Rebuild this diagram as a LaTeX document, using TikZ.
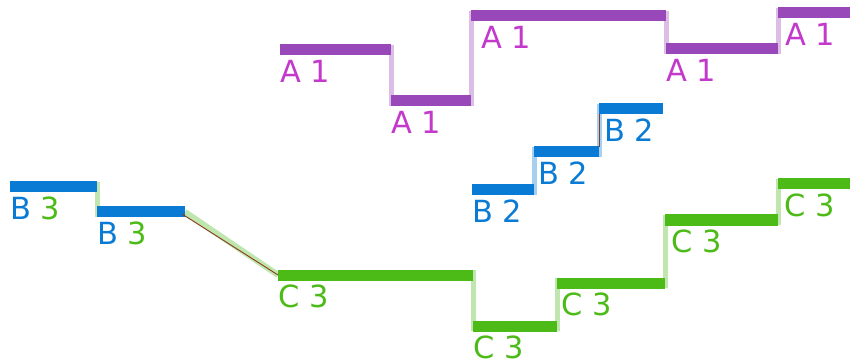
\documentclass[tikz,border=0pt]{standalone}
\usepackage{fontspec}
\setmainfont{DejaVu Sans}
\usetikzlibrary{positioning}

\definecolor{aline}{HTML}{9848B8}
\definecolor{alight}{HTML}{DCBDE5}
\definecolor{atext}{HTML}{C239CB}
\definecolor{bline}{HTML}{0A7BD5}
\definecolor{blight}{HTML}{A7CFF2}
\definecolor{cline}{HTML}{4DBB17}
\definecolor{clight}{HTML}{BFE6AE}
\definecolor{trace}{HTML}{8B3A1A}

\begin{document}
\begin{tikzpicture}[x=1pt, y=-1pt,
    seg/.style={line width=11pt},
    aseg/.style={seg, draw=aline},
    bseg/.style={seg, draw=bline},
    cseg/.style={seg, draw=cline},
    link/.style={line width=5pt, shorten <=-5pt, shorten >=-5pt},
    alink/.style={link, draw=alight},
    blink/.style={link, draw=blight},
    clink/.style={link, draw=clight},
    tracebox/.style={line width=0.9pt, draw=trace},
    lbl/.style={anchor=north west, inner sep=0pt, font=\fontsize{30.5}{36}\selectfont, yshift=-10pt}
]
    \useasboundingbox (0,0) rectangle (850,363);

    % --- Segment ends ---
    % A
    \coordinate (a1s) at (280,50);  \coordinate (a1e) at (391,50);
    \coordinate (a2s) at (391,101); \coordinate (a2e) at (471,101);
    \coordinate (a3s) at (471,16);  \coordinate (a3e) at (666,16);
    \coordinate (a4s) at (666,49);  \coordinate (a4e) at (778,49);
    \coordinate (a5s) at (778,13);  \coordinate (a5e) at (850,13);
    % B
    \coordinate (b1s) at (10,187);  \coordinate (b1e) at (97,187);
    \coordinate (b2s) at (97,212);  \coordinate (b2e) at (185,212);
    \coordinate (b3s) at (472,190); \coordinate (b3e) at (534,190);
    \coordinate (b4s) at (534,152); \coordinate (b4e) at (599,152);
    \coordinate (b5s) at (599,109); \coordinate (b5e) at (663,109);
    % C
    \coordinate (c1s) at (278,275); \coordinate (c1e) at (473,275);
    \coordinate (c2s) at (473,326); \coordinate (c2e) at (557,326);
    \coordinate (c3s) at (557,283); \coordinate (c3e) at (665,283);
    \coordinate (c4s) at (665,220); \coordinate (c4e) at (778,220);
    \coordinate (c5s) at (778,184); \coordinate (c5e) at (850,184);

    % --- Links ---
    \draw[alink] (a1e) -- (a2s);
    \draw[alink] (a2e) -- (a3s);
    \draw[alink] (a3e) -- (a4s);
    \draw[alink] (a4e) -- (a5s);

    \draw[clink] (b1e) -- (b2s);
    \draw[line width=6pt, draw=clight] (b2e) -- (c1s);
    \draw[blink] (b3e) -- (b4s);
    \draw[blink] (b4e) -- (b5s);

    \draw[clink] (c1e) -- (c2s);
    \draw[clink] (c2e) -- (c3s);
    \draw[clink] (c3e) -- (c4s);
    \draw[clink] (c4e) -- (c5s);

    % --- Segments ---
    \foreach \i in {1,...,5} {
        \draw[aseg] (a\i s) -- (a\i e);
        \draw[bseg] (b\i s) -- (b\i e);
        \draw[cseg] (c\i s) -- (c\i e);
    }

    % traced links on top
    \draw[tracebox] ([xshift=-3pt, yshift=-2pt]b2e) -- (c1s);
    \draw[tracebox] ([yshift=5pt]b4e) -- ([yshift=-5pt]b5s);

    % --- Labels ---
    \node[lbl, text=atext] (la1) at (a1s) {A 1};
    \node[lbl, text=atext] (la2) at (a2s) {A 1};
    \node[lbl, text=atext, xshift=10pt] (la3) at (a3s) {A 1};
    \node[lbl, text=atext] (la4) at (a4s) {A 1};
    \node[lbl, text=atext, xshift=7pt] (la5) at (a5s) {A 1};

    \node[lbl, text=bline] (lb1) at (b1s) {B \textcolor{cline}{3}};
    \node[lbl, text=bline] (lb2) at (b2s) {B \textcolor{cline}{3}};
    \node[lbl, text=bline] (lb3) at (b3s) {B 2};
    \node[lbl, text=bline, xshift=4pt] (lb4) at (b4s) {B 2};
    \node[lbl, text=bline, xshift=5pt] (lb5) at (b5s) {B 2};

    \node[lbl, text=cline] (lc1) at (c1s) {C 3};
    \node[lbl, text=cline] (lc2) at (c2s) {C 3};
    \node[lbl, text=cline, xshift=4pt] (lc3) at (c3s) {C 3};
    \node[lbl, text=cline, xshift=6pt] (lc4) at (c4s) {C 3};
    \node[lbl, text=cline, xshift=6pt] (lc5) at (c5s) {C 3};

\end{tikzpicture}
\end{document}
